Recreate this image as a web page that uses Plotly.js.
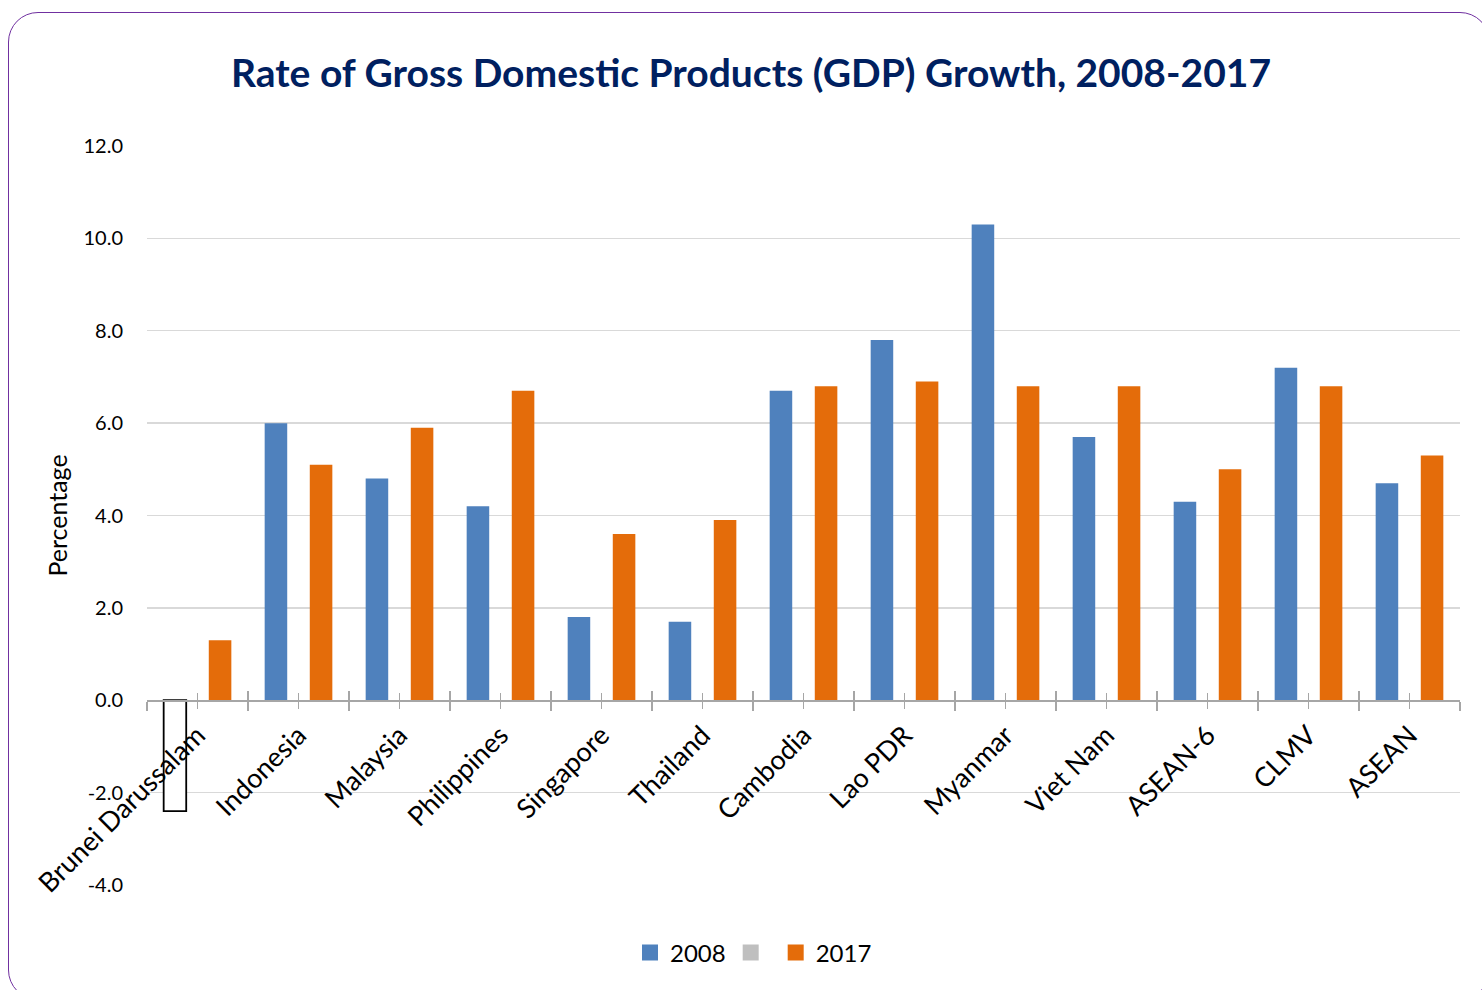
<!DOCTYPE html>
<html><head><meta charset="utf-8">
<script src="https://cdn.plot.ly/plotly-3.0.1.min.js"></script>
<style>
html,body{margin:0;padding:0;overflow:hidden;background:#fff;}
#chart{width:1482px;height:990px;}
#frame{position:absolute;left:8px;top:12px;width:1480px;height:986px;border:1.6px solid #7030A0;border-radius:30px;pointer-events:none;}
</style></head><body>
<div id="chart"></div><div id="frame"></div>
<script>
const categories = ['Brunei Darussalam','Indonesia','Malaysia','Philippines','Singapore','Thailand','Cambodia','Lao PDR','Myanmar','Viet Nam','ASEAN-6','CLMV','ASEAN'];
const values2008 = [-2.4, 6.0, 4.8, 4.2, 1.8, 1.7, 6.7, 7.8, 10.3, 5.7, 4.3, 7.2, 4.7];
const values2017 = [1.3, 5.1, 5.9, 6.7, 3.6, 3.9, 6.8, 6.9, 6.8, 6.8, 5.0, 6.8, 5.3];
const valuesBlank = [null, null, null, null, null, null, null, null, null, null, null, null, null];
const seriesNames = ['2008', '', '2017'];
const yTickVals = [-4, -2, 0, 2, 4, 6, 8, 10, 12];
const yTickText = ['-4.0', '-2.0', '0.0', '2.0', '4.0', '6.0', '8.0', '10.0', '12.0'];
const titleText = 'Rate of Gross Domestic Products (GDP) Growth, 2008-2017';

const idx = categories.map((c, i) => i);
const bounds = idx.map(i => i - 0.5).concat([categories.length - 0.5]);
const FONT = 'Lato, "Open Sans", sans-serif';
const BLUE = '#4F81BD', ORANGE = '#E46C0A', GREY = '#BFBFBF', AX = '#A6A6A6';
const colors = [BLUE, GREY, ORANGE];

const traces = [
  {type:'bar', name: seriesNames[0], x: idx, y: values2008.map(v => v >= 0 ? v : null),
   marker:{color: BLUE}, offsetgroup:'a', showlegend:false, hoverinfo:'y'},
  {type:'bar', name: seriesNames[0], x: idx, y: values2008.map(v => v < 0 ? v : null),
   marker:{color:'#FFFFFF', line:{color:'#000000', width:1.8}}, offsetgroup:'a', showlegend:false, hoverinfo:'y'},
  {type:'bar', name: seriesNames[1], x: idx, y: valuesBlank, marker:{color: GREY}, offsetgroup:'b', showlegend:false},
  {type:'bar', name: seriesNames[2], x: idx, y: values2017, marker:{color: ORANGE}, offsetgroup:'c', showlegend:false, hoverinfo:'y'},
  {type:'scatter', x: [], y: [], xaxis:'x2', yaxis:'y', showlegend:false, hoverinfo:'skip'}
];
// legend entries (square swatches) for the three series
seriesNames.forEach((n, i) => {
  traces.push({type:'scatter', mode:'markers', name: n, x:[null], y:[null],
    marker:{symbol:'square', size:16, color: colors[i]}, showlegend:true, hoverinfo:'skip'});
});

const xCommon = {
  range:[-0.5, categories.length - 0.5], anchor:'free', position:0.25,
  showgrid:false, zeroline:false, fixedrange:true
};

const layout = {
  width:1482, height:990,
  paper_bgcolor:'rgba(0,0,0,0)', plot_bgcolor:'#FFFFFF',
  margin:{l:147, r:22, t:146, b:105},
  font:{family: FONT, color:'#000'},
  title:{text: titleText, x:751/1482, xref:'container', xanchor:'center',
         y:1 - 73/990, yref:'container', yanchor:'middle',
         font:{family: FONT, size:39, color:'#002060', weight:'bold'}},
  barmode:'group', bargap:0.33, bargroupgap:0,
  showlegend:true,
  legend:{orientation:'h', x:(630-147)/1313, xanchor:'left', y:-0.092, yanchor:'middle',
          font:{family: FONT, size:24, color:'#000'}, traceorder:'normal',
          itemsizing:'trace', itemwidth:30, tracegroupgap:0},
  xaxis: Object.assign({}, xCommon, {
    tickmode:'array', tickvals: idx, ticktext: categories, tickangle:-45,
    ticks:'outside', ticklen:7, tickwidth:1.3, tickcolor: AX,
    showline:true, linecolor: AX, linewidth:1.5,
    tickfont:{family: FONT, size:27, color:'#000'},
    minor:{tickmode:'array', tickvals: bounds, ticks:'outside', ticklen:9, tickwidth:1.3, tickcolor: AX, showgrid:false}
  }),
  xaxis2: Object.assign({}, xCommon, {
    overlaying:'x',
    tickmode:'array', tickvals: idx, showticklabels:false,
    ticks:'inside', ticklen:7, tickwidth:1.3, tickcolor: AX, showline:false,
    minor:{tickmode:'array', tickvals: bounds, ticks:'inside', ticklen:9, tickwidth:1.3, tickcolor: AX, showgrid:false}
  }),
  yaxis:{
    range:[-4, 12], tickmode:'array', tickvals: yTickVals, ticktext: yTickText,
    showgrid:true, gridcolor:'#D9D9D9', gridwidth:1.3, zeroline:false, showline:false,
    ticks:'', ticklabelstandoff:23, fixedrange:true,
    tickfont:{family: FONT, size:20, color:'#000'},
    title:{text:'Percentage', font:{family: FONT, size:25, color:'#000'}, standoff:8}
  }
};

Plotly.newPlot('chart', traces, layout, {displayModeBar:false, staticPlot:true});
</script>
</body></html>
